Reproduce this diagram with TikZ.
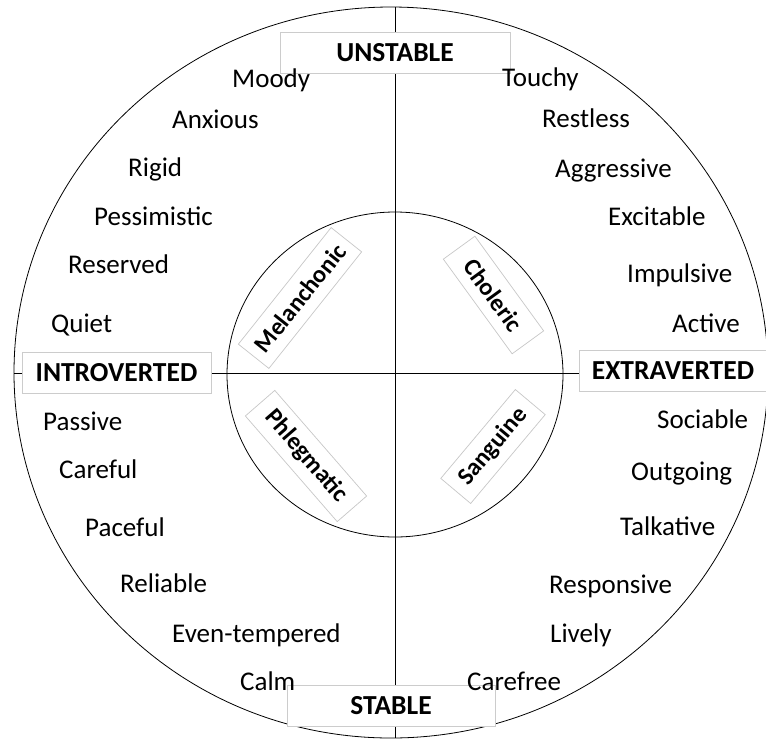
\documentclass[tikz,border=0pt]{standalone}
\usepackage{fontspec}
\setmainfont{Carlito}
\usepackage{tikz}

\tikzset{
  trait/.style={anchor=base west, inner sep=0pt, font=\fontsize{27}{31}\selectfont},
  axis/.style={draw=black!20, fill=white, line width=0.8pt, inner sep=0pt,
    minimum height=41pt, font=\bfseries\fontsize{27.5}{31}\selectfont},
  temper/.style={draw=black!22, fill=white, line width=0.7pt, inner xsep=8pt,
    inner ysep=0pt, minimum height=39pt, font=\bfseries\fontsize{24.5}{28}\selectfont},
}

\begin{document}
\begin{tikzpicture}[x=1pt,y=-1pt]
\useasboundingbox (0,0) rectangle (766,740);
\coordinate (top) at (395,7);
\coordinate (bottom) at (395,738);
\coordinate (left) at (14,373);
\coordinate (right) at (768,373);
\draw[line width=0.8pt] (391,372.5) ellipse [x radius=377, y radius=365.5];
\draw[line width=0.8pt] (395,374.5) ellipse [x radius=168, y radius=162.5];
\draw[line width=0.8pt] (top) -- (bottom);
\draw[line width=0.8pt] (left) -- (right);

\node[axis, minimum width=230pt] (unstable) at (395,52.5) {UNSTABLE};
\node[axis, minimum width=208pt] (stable) at (391,706) {STABLE};
\node[axis, minimum width=189pt] (introverted) at (116.5,372.5) {INTROVERTED};
\node[axis, minimum width=188pt] (extraverted) at (673,370.5) {EXTRAVERTED};

\node[temper, minimum width=149pt, rotate=51.5] (melanchonic) at (300,298) {Melanchonic};
\node[temper, minimum width=117pt, rotate=-54] (choleric) at (493.5,295) {Choleric};
\node[temper, minimum width=140pt, rotate=-49] (phlegmatic) at (306,456) {Phlegmatic};
\node[temper, minimum width=116pt, rotate=50] (sanguine) at (493,446.5) {Sanguine};

\node[trait] (moody) at (232,87) {Moody};
\node[trait] (anxious) at (172,128) {Anxious};
\node[trait] (rigid) at (128,176) {Rigid};
\node[trait] (pessimistic) at (94,225) {Pessimistic};
\node[trait] (reserved) at (68,273) {Reserved};
\node[trait] (quiet) at (51,332) {Quiet};

\node[trait] (touchy) at (502,86) {Touchy};
\node[trait] (restless) at (542,127) {Restless};
\node[trait] (aggressive) at (555,177) {Aggressive};
\node[trait] (excitable) at (608,225) {Excitable};
\node[trait] (impulsive) at (627,282) {Impulsive};
\node[trait] (active) at (672,332) {Active};

\node[trait] (passive) at (43,430) {Passive};
\node[trait] (careful) at (59,478) {Careful};
\node[trait] (paceful) at (85,536) {Paceful};
\node[trait] (reliable) at (120,592) {Reliable};
\node[trait] (eventempered) at (172,642) {Even-tempered};
\node[trait] (calm) at (240,690) {Calm};

\node[trait] (sociable) at (657,428) {Sociable};
\node[trait] (outgoing) at (631,480) {Outgoing};
\node[trait] (talkative) at (620,535) {Talkative};
\node[trait] (responsive) at (549,593) {Responsive};
\node[trait] (lively) at (550,642) {Lively};
\node[trait] (carefree) at (467,690) {Carefree};
\end{tikzpicture}
\end{document}
